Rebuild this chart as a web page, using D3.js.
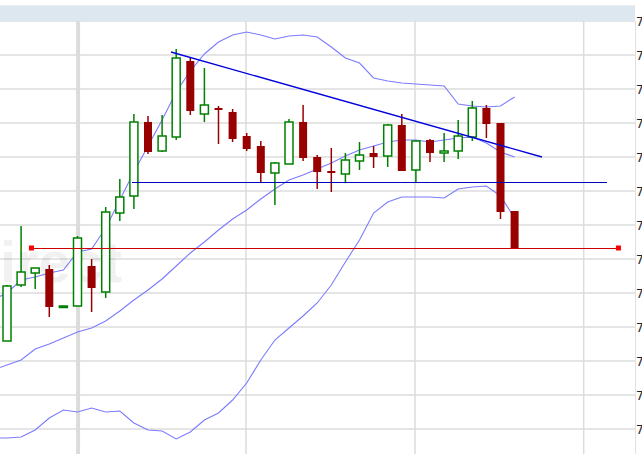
<!DOCTYPE html>
<html><head><meta charset="utf-8">
<script src="https://cdn.jsdelivr.net/npm/d3@7"></script>
<style>body{margin:0;background:#fff}svg{display:block}</style>
</head><body>
<script>
// candles: [open, close, high, low]
const candles = [
[15.9,21.4,21.5,15.9],[21.5,22.8,27.4,21.3],[22.7,23.2,23.2,21.1],[23.1,19.3,23.5,18.3],
[19.3,19.4,19.4,19.3],[19.4,26.2,26.4,19.4],[23.4,21.2,24.1,18.8],[20.8,28.8,29.3,20.2],
[28.7,30.3,32.1,27.9],[30.4,37.8,38.6,29.1],[37.8,34.8,38.4,34.6],[34.9,36.4,38.5,34.8],
[36.3,44.2,45.1,36.0],[43.9,38.9,44.2,38.5],[38.6,39.5,43.2,37.8],[39.2,39.0,39.4,35.6],
[38.8,36.1,39.1,35.8],[36.4,35.1,36.7,34.9],[35.4,32.7,35.9,31.7],[32.7,33.7,33.8,29.5],
[33.6,37.8,38.1,33.6],[37.8,34.2,39.5,33.9],[34.3,32.8,34.5,31.1],[32.9,32.7,35.2,30.8],
[32.6,34.0,34.7,31.7],[33.9,34.5,35.8,33.0],[34.7,34.3,35.4,33.2],[34.4,37.5,37.6,33.3],
[37.5,32.9,38.6,32.9],[33.0,35.9,36.0,31.7],[36.0,34.7,36.1,33.8],[34.7,34.9,36.7,33.8],
[34.9,36.4,38.0,34.1],[36.3,39.2,39.9,35.9],[39.2,37.6,39.5,36.2],[37.7,28.8,37.7,28.1],
[28.9,25.2,28.9,25.2]];
// bands start one step before the first visible candle
const upperBand = [20.0,20.7,22.0,22.3,22.7,23.0,24.8,25.1,27.2,30.0,32.8,35.4,38.0,40.8,42.9,44.6,45.8,46.5,46.8,46.5,46.1,46.4,46.5,46.3,45.3,44.2,43.7,42.2,41.9,41.7,41.6,41.5,41.4,39.6,39.4,39.3,39.4,40.3];
const middleBand = [13.0,13.5,14.0,15.1,15.6,16.2,16.8,17.2,17.9,18.9,20.0,21.0,22.1,23.4,24.7,25.8,27.0,28.1,29.0,30.1,31.1,32.0,32.5,33.1,33.7,34.4,35.0,35.4,35.8,36.0,36.0,35.8,36.0,36.2,36.3,35.7,34.8,34.3];
const lowerBand = [6.2,6.2,6.3,7.0,8.2,9.0,8.8,9.2,8.8,8.9,7.7,7.0,6.9,6.1,6.8,8.0,8.7,10.0,11.7,14.0,16.0,17.2,18.4,19.7,21.5,23.8,26.0,28.7,29.8,30.3,30.3,30.3,30.2,31.1,31.3,31.4,30.4,28.2];
const yTicks = [47.9,44.5,41.1,37.7,34.3,30.9,27.5,24.1,20.7,17.3,13.9,10.5,7.1];
const yTickLabels = yTicks.map(()=> "7");
const xGrid = [5.04,16.95,28.94,40.9];
const trendLine = [[11.63,44.8],[37.94,34.3]];
const supportLine = [[8.87,31.75],[42.55,31.75]];
const redLine = [[1.77,25.15],[43.4,25.15]];

const W=642,H=454, plotR=635;
const x = d3.scaleLinear().domain([0,36]).range([7,514.6]);
const y = d3.scaleLinear().domain([4.6,50]).range([454,0]);
const svg = d3.select("body").append("svg").attr("width",W).attr("height",H);
svg.append("defs").append("clipPath").attr("id","c").append("rect").attr("x",0).attr("y",21).attr("width",plotR).attr("height",H-21);
svg.append("rect").attr("x",0).attr("y",5).attr("width",plotR).attr("height",16).attr("fill","#dde7f0");
svg.append("line").attr("x1",0).attr("x2",plotR).attr("y1",5.5).attr("y2",5.5).attr("stroke","#e8eef4");
const g = svg.append("g").attr("clip-path","url(#c)");
g.selectAll(".hg").data(yTicks).join("line").attr("x1",0).attr("x2",plotR)
 .attr("y1",d=>y(d)).attr("y2",d=>y(d)).attr("stroke","#dcdcdc").attr("stroke-width",1.5);
g.selectAll(".vg").data(xGrid).join("line").attr("x1",d=>x(d)).attr("x2",d=>x(d))
 .attr("y1",21).attr("y2",H).attr("stroke","#dcdcdc").attr("stroke-width",(d,i)=>i==0?4:1.5);
svg.append("line").attr("x1",plotR+0.5).attr("x2",plotR+0.5).attr("y1",21).attr("y2",H).attr("stroke","#e0e0e0");
g.append("text").attr("x",-42).attr("y",282).attr("font-family","Liberation Sans, Arial").attr("font-weight","bold")
 .attr("font-size",58).attr("fill","#000").attr("opacity",0.05).text("Direct");
const ln = d3.line().x((d,i)=>x(i-1)).y(d=>y(d));
[upperBand,middleBand,lowerBand].forEach(b=>g.append("path").attr("d",ln(b)).attr("fill","none").attr("stroke","#7b7bff").attr("stroke-width",1.1));
const bw=8;
const cg = g.selectAll(".c").data(candles).join("g");
cg.append("line").attr("x1",(d,i)=>x(i)).attr("x2",(d,i)=>x(i)).attr("y1",d=>y(d[2])).attr("y2",d=>y(d[3]))
 .attr("stroke",d=>d[1]>=d[0]?"#008000":"#990000").attr("stroke-width",1.5);
cg.append("rect").attr("x",(d,i)=>x(i)-bw/2).attr("y",d=>y(Math.max(d[0],d[1])))
 .attr("width",bw).attr("height",d=>Math.max(1.5,Math.abs(y(d[0])-y(d[1]))))
 .attr("fill",d=>d[1]>=d[0]?"#fff":"#990000")
 .attr("stroke",d=>d[1]>=d[0]?"#008000":"#990000").attr("stroke-width",d=>d[1]>=d[0]?1.5:0);
const pl = d3.line().x(d=>x(d[0])).y(d=>y(d[1]));
g.append("path").attr("d",pl(trendLine)).attr("stroke","#0000dd").attr("stroke-width",1.3).attr("fill","none");
g.append("path").attr("d",pl(supportLine)).attr("stroke","#0000bb").attr("stroke-width",1).attr("shape-rendering","crispEdges").attr("fill","none");
g.append("path").attr("d",pl(redLine)).attr("stroke","#cc0000").attr("stroke-width",1).attr("shape-rendering","crispEdges").attr("fill","none");
g.selectAll(".rs").data(redLine).join("rect").attr("x",d=>x(d[0])-3).attr("y",d=>y(d[1])-3).attr("width",5).attr("height",5).attr("fill","#ff0000");
svg.selectAll(".lab").data(yTicks).join("text").attr("x",636).attr("y",d=>y(d)+5)
 .attr("font-family","DejaVu Sans").attr("font-size",12).attr("fill","#222").text((d,i)=>yTickLabels[i]);
</script>
</body></html>
